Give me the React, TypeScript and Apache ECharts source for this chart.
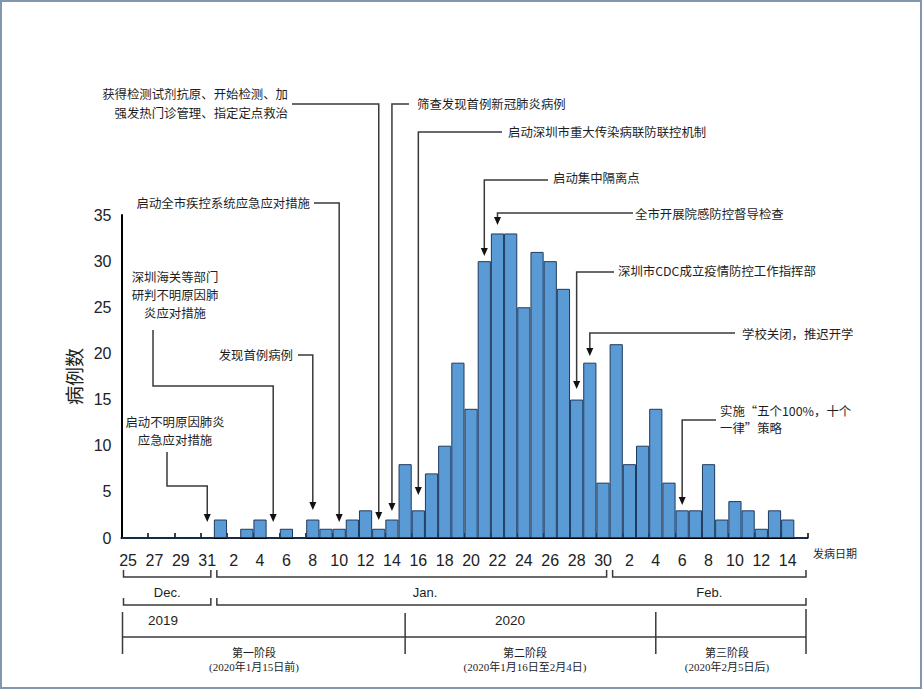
import React, { useEffect, useRef } from "react";
import * as echarts from "echarts";

// ---- data ----
const decDays = ["25", "26", "27", "28", "29", "30", "31"];
const janDays = ["1", "2", "3", "4", "5", "6", "7", "8", "9", "10", "11", "12", "13", "14", "15", "16", "17", "18", "19", "20", "21", "22", "23", "24", "25", "26", "27", "28", "29", "30"];
const febDays = ["1", "2", "3", "4", "5", "6", "7", "8", "9", "10", "11", "12", "13", "14", "15"];
const categories = [...decDays, ...janDays, ...febDays];

const decCases = [0, 0, 0, 0, 0, 0, 0];
const janCases = [2, 0, 1, 2, 0, 1, 0, 2, 1, 1, 2, 3, 1, 2, 8, 3, 7, 10, 19, 14, 30, 33, 33, 25, 31, 30, 27, 15, 19, 6];
const febCases = [21, 8, 10, 14, 6, 3, 3, 8, 2, 4, 3, 1, 3, 2, 0];
const cases = [...decCases, ...janCases, ...febCases];

const yTicks = { min: 0, max: 35, interval: 5 };

// annotation texts, the category index the arrow points at
const annotationTexts: string[][] = [
  ["启动不明原因肺炎", "应急应对措施"],
  ["深圳海关等部门", "研判不明原因肺", "炎应对措施"],
  ["发现首例病例"],
  ["启动全市疾控系统应急应对措施"],
  ["获得检测试剂抗原、开始检测、加", "强发热门诊管理、指定定点救治"],
  ["筛查发现首例新冠肺炎病例"],
  ["启动深圳市重大传染病联防联控机制"],
  ["启动集中隔离点"],
  ["全市开展院感防控督导检查"],
  ["深圳市CDC成立疫情防控工作指挥部"],
  ["学校关闭，推迟开学"],
  ["实施“五个100%，十个", "一律”策略"],
];
const annotationTargets = [6, 11, 14, 16, 19, 20, 22, 27, 28, 34, 35, 42];

const monthLabels = ["Dec.", "Jan.", "Feb."];
const yearLabels = ["2019", "2020"];
const stageLabels = [
  ["第一阶段", "(2020年1月15日前)"],
  ["第二阶段", "(2020年1月16日至2月4日)"],
  ["第三阶段", "(2020年2月5日后)"],
];

// ---- layout (pixels) ----
type Layout = {
  align: "left" | "right" | "center";
  tx: number;
  ys: number[];
  // path: start points before reaching arrow column; elbowY = y of horizontal run
  start: [number, number][];
  elbowY: number;
  tipY: number;
};
const annotationLayout: Layout[] = [
  { align: "center", tx: 175, ys: [422, 440], start: [[167, 452], [167, 486]], elbowY: 486, tipY: 522 },
  { align: "center", tx: 175, ys: [277, 295, 313], start: [[153, 330], [153, 386]], elbowY: 386, tipY: 522 },
  { align: "right", tx: 293, ys: [355], start: [[298, 355]], elbowY: 355, tipY: 510 },
  { align: "right", tx: 310, ys: [203], start: [[314, 203]], elbowY: 203, tipY: 522 },
  { align: "right", tx: 288, ys: [94, 113], start: [[292, 104]], elbowY: 104, tipY: 520 },
  { align: "left", tx: 417, ys: [104], start: [[409, 104]], elbowY: 104, tipY: 511 },
  { align: "left", tx: 508, ys: [132], start: [[502, 132]], elbowY: 132, tipY: 495 },
  { align: "left", tx: 553, ys: [178], start: [[548, 180]], elbowY: 180, tipY: 256 },
  { align: "left", tx: 635, ys: [214], start: [[633, 213]], elbowY: 213, tipY: 225 },
  { align: "left", tx: 618, ys: [271], start: [[614, 272]], elbowY: 272, tipY: 389 },
  { align: "left", tx: 742, ys: [334], start: [[735, 333]], elbowY: 333, tipY: 356 },
  { align: "left", tx: 720, ys: [411, 428], start: [[716, 420]], elbowY: 420, tipY: 505 },
];

const CJK = "'Noto Sans CJK SC', 'Noto Sans', sans-serif";
const NUM = "'Liberation Sans Narrow', 'Liberation Sans', Arial, sans-serif";
const SERIF_MIX = "'Liberation Serif', 'Noto Sans CJK SC', serif";
const LINE = "#3a3a3a";
const TEXT = "#1e1e1e";

export default function App() {
  const ref = useRef<HTMLDivElement>(null);

  useEffect(() => {
    if (!ref.current) return;
    const chart = echarts.init(ref.current, undefined, { renderer: "svg" });
    chart.setOption({
      animation: false,
      backgroundColor: "#ffffff",
      grid: { left: 121.5, right: 114.5, top: 215, bottom: 151, containLabel: false },
      xAxis: {
        type: "category",
        data: categories,
        boundaryGap: true,
        axisLine: { lineStyle: { color: "#000", width: 2 } },
        axisTick: { show: true, inside: true, interval: 1, length: 5, lineStyle: { color: "#000", width: 1.5 } },
        axisLabel: { interval: 1, margin: 14, fontSize: 16, color: "#222", fontFamily: NUM },
      },
      yAxis: {
        type: "value",
        min: yTicks.min,
        max: yTicks.max,
        interval: yTicks.interval,
        name: "病例数",
        nameLocation: "middle",
        nameRotate: 90,
        nameGap: 34,
        nameTextStyle: { fontSize: 19, color: "#222", fontFamily: CJK },
        axisLine: { show: true, lineStyle: { color: "#000", width: 2 } },
        axisTick: { show: false },
        splitLine: { show: false },
        axisLabel: { margin: 10, fontSize: 16, color: "#222", fontFamily: NUM },
      },
      series: [
        {
          type: "bar",
          data: cases,
          barCategoryGap: "0%",
          itemStyle: { color: "#5B9BD5", borderColor: "#1F3A5F", borderWidth: 1 },
        },
      ],
    });

    const cx = (i: number) => chart.convertToPixel({ xAxisIndex: 0 }, i) as number;
    const w = cx(1) - cx(0);
    const bnd = (i: number) => cx(0) - w / 2 + i * w; // left boundary of category i

    const g: any[] = [];
    // frame
    g.push({ type: "rect", shape: { x: 1, y: 1, width: 920, height: 687 }, style: { fill: "none", stroke: "#8197ad", lineWidth: 2 }, silent: true });

    const txt = (x: number, y: number, text: string, align: string, size: number, family: string, fill = TEXT) => {
      g.push({ type: "text", x, y, style: { text, fill, fontSize: size, fontFamily: family, align, verticalAlign: "middle" }, silent: true });
    };

    annotationTexts.forEach((lines, k) => {
      const L = annotationLayout[k];
      const X = cx(annotationTargets[k]);
      lines.forEach((s, j) => txt(L.tx, L.ys[j], s, L.align, 12.4, CJK));
      const pts: number[][] = L.start.map((p) => [p[0], p[1]]);
      pts.push([X, L.elbowY]);
      pts.push([X, L.tipY - 6]);
      g.push({ type: "polyline", shape: { points: pts }, style: { stroke: LINE, lineWidth: 1.5, fill: "none" }, silent: true });
      g.push({ type: "polygon", shape: { points: [[X - 3.5, L.tipY - 8], [X + 3.5, L.tipY - 8], [X, L.tipY]] }, style: { fill: "#111" }, silent: true });
    });

    // x-axis caption
    txt(813, 553, "发病日期", "left", 11, CJK);

    // brackets
    const bracket = (x1: number, x2: number, y: number, h: number) => {
      g.push({ type: "polyline", shape: { points: [[x1, y - h], [x1, y], [x2, y], [x2, y - h]] }, style: { stroke: LINE, lineWidth: 1.5, fill: "none" }, silent: true });
    };
    const decR = [bnd(0) + 2, bnd(7) - 3];
    const janR = [bnd(7) + 3, bnd(37) - 3];
    const febR = [bnd(37) + 3, bnd(52) - 1.5];
    bracket(decR[0], decR[1], 577, 7);
    bracket(janR[0], janR[1], 577, 7);
    bracket(febR[0], febR[1], 577, 7);
    txt((decR[0] + decR[1]) / 2, 592, monthLabels[0], "center", 13, "'Liberation Sans', Arial, sans-serif");
    txt(425, 592, monthLabels[1], "center", 13, "'Liberation Sans', Arial, sans-serif");
    txt((febR[0] + febR[1]) / 2, 592, monthLabels[2], "center", 13, "'Liberation Sans', Arial, sans-serif");

    bracket(decR[0], decR[1], 605, 7);
    bracket(janR[0], febR[1], 605, 7);
    txt(163, 620, yearLabels[0], "center", 13.5, "'Liberation Sans', Arial, sans-serif");
    txt(510, 620, yearLabels[1], "center", 13.5, "'Liberation Sans', Arial, sans-serif");

    // stages
    const s0 = bnd(0) + 1;
    const s1 = cx(21);
    const s2 = cx(40);
    const s3 = bnd(52) - 1.5;
    g.push({ type: "line", shape: { x1: s0, y1: 637, x2: s3, y2: 637 }, style: { stroke: LINE, lineWidth: 1.5 }, silent: true });
    [[s0, 612], [s1, 613], [s2, 612], [s3, 609]].forEach(([x, y0]) => {
      g.push({ type: "line", shape: { x1: x, y1: y0, x2: x, y2: 654 }, style: { stroke: LINE, lineWidth: 1.5 }, silent: true });
    });
    const stageX = [254, 525, 727];
    stageLabels.forEach((pair, k) => {
      txt(stageX[k], 653, pair[0], "center", 11, SERIF_MIX);
      txt(stageX[k], 667, pair[1], "center", 11, SERIF_MIX);
    });

    chart.setOption({ graphic: { elements: g } });

    return () => chart.dispose();
  }, []);

  return (
    <div
      ref={ref}
      style={{ position: "fixed", left: 0, top: 0, width: 922, height: 689, background: "#fff" }}
    />
  );
}
